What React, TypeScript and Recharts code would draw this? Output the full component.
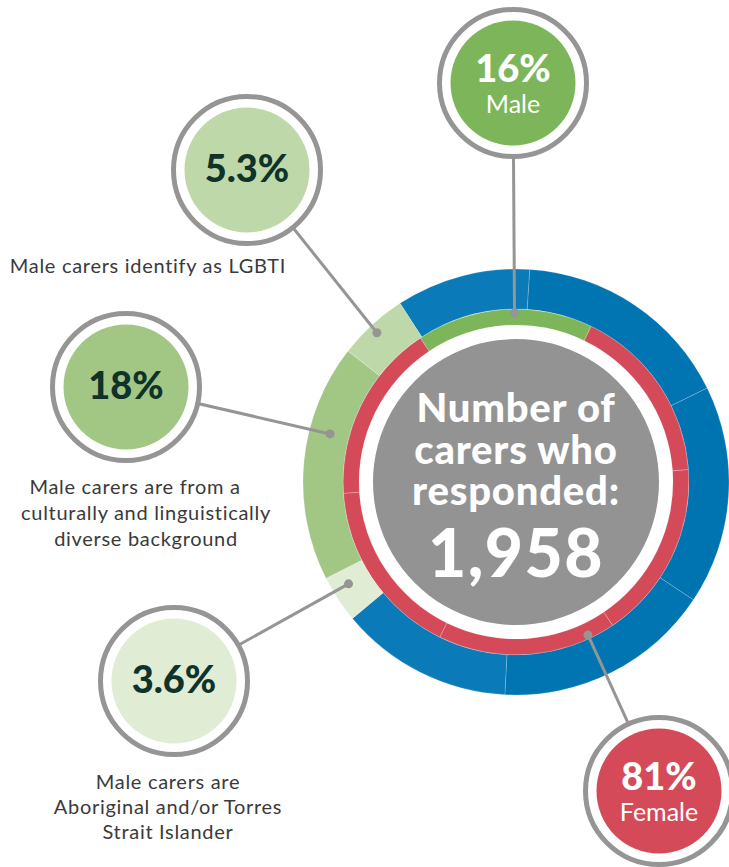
import { PieChart, Pie, Cell } from 'recharts'

// inner ring: gender split (drawn as six equal wedges in the original)
const genderNames = ['Male', 'Female', 'Female', 'Female', 'Female', 'Female']
const genderValues = [16, 16.2, 16.2, 16.2, 16.2, 16.2]
const genderColors = ['#7db65a', '#d44a58', '#d44a58', '#d44a58', '#d44a58', '#d44a58']

// outer ring: male carer groups, the rest is the blue filler
const groupNames = ['Other', 'Other', 'Other', 'Other', 'Other', 'Aboriginal and/or Torres Strait Islander', 'Culturally and linguistically diverse', 'LGBTI']
const groupValues = [10.2, 16.7, 16.6, 16.5, 13.1, 3.6, 18, 5.3]
const groupColors = ['#0a7bb8', '#0075b2', '#0074b1', '#0075b2', '#0a7bb8', '#e0ecd4', '#a2c684', '#bfd8a9']

const respondents = 1958
const centerLines = ['Number of', 'carers who', 'responded:']

const W = 729
const H = 867
const CX = 516
const CY = 482

const genderData = genderNames.map((name, i) => ({ name, value: genderValues[i] }))
const groupData = groupNames.map((name, i) => ({ name, value: groupValues[i] }))

const FONT = 'Lato, "Open Sans", sans-serif'

type Callout = {
  x: number
  y: number
  fill: string
  pct: string
  pctColor: string
  sub?: string
  dotAngle: number
  dotR: number
  caption?: string[]
  captionX?: number[]
  captionY?: number[]
}

const callouts: Callout[] = [
  { x: 513, y: 83, fill: '#7db65a', pct: '16%', pctColor: '#fff', sub: 'Male', dotAngle: 90.5, dotR: 169 },
  {
    x: 247, y: 170, fill: '#bfd8a9', pct: '5.3%', pctColor: '#0f332a', dotAngle: 133, dotR: 204,
    caption: ['Male carers identify as LGBTI'], captionX: [148], captionY: [273],
  },
  {
    x: 126, y: 387, fill: '#a2c684', pct: '18%', pctColor: '#0f332a', dotAngle: 165.5, dotR: 192,
    caption: ['Male carers are from a', 'culturally and linguistically', 'diverse background'],
    captionX: [135, 146, 146], captionY: [494, 520, 546],
  },
  {
    x: 174, y: 681, fill: '#e0ecd4', pct: '3.6%', pctColor: '#0f332a', dotAngle: 211.3, dotR: 196,
    caption: ['Male carers are', 'Aboriginal and/or Torres', 'Strait Islander'],
    captionX: [168, 168, 168], captionY: [789, 814, 839],
  },
  { x: 659, y: 791, fill: '#d44a58', pct: '81%', pctColor: '#fff', sub: 'Female', dotAngle: 295.2, dotR: 169 },
]

const polar = (angle: number, r: number) => {
  const rad = (angle * Math.PI) / 180
  return { x: CX + r * Math.cos(rad), y: CY - r * Math.sin(rad) }
}

// drawn over the chart: leader lines, callout bubbles, centre text
const Annotations = () => (
  <svg width={W} height={H} style={{ position: 'absolute', left: 0, top: 0, pointerEvents: 'none' }}>
    {callouts.map((c, i) => {
      const d = polar(c.dotAngle, c.dotR)
      return <line key={'l' + i} x1={c.x} y1={c.y} x2={d.x} y2={d.y} stroke="#959595" strokeWidth={3} />
    })}
    {callouts.map((c, i) => {
      const d = polar(c.dotAngle, c.dotR)
      return <circle key={'d' + i} cx={d.x} cy={d.y} r={4.5} fill="#959595" />
    })}
    {callouts.map((c, i) => (
      <g key={'c' + i}>
        <circle cx={c.x} cy={c.y} r={73.5} fill="#fff" stroke="#959595" strokeWidth={5} />
        <circle cx={c.x} cy={c.y} r={62.5} fill={c.fill} />
        <text
          x={c.x}
          y={c.sub ? c.y - 1 : c.y + 12}
          textAnchor="middle"
          fontFamily={FONT}
          fontWeight={900}
          fontSize={38}
          fill={c.pctColor}
        >
          {c.pct}
        </text>
        {c.sub && (
          <text x={c.x} y={c.y + 30} textAnchor="middle" fontFamily={FONT} fontSize={25} fill="#fff">
            {c.sub}
          </text>
        )}
        {c.caption?.map((line, j) => (
          <text
            key={j}
            x={c.captionX![j]}
            y={c.captionY![j]}
            textAnchor="middle"
            fontFamily={FONT}
            fontSize={20}
            letterSpacing={0.7}
            fill="#3a3a3a"
          >
            {line}
          </text>
        ))}
      </g>
    ))}
    {centerLines.map((line, i) => (
      <text
        key={'t' + i}
        x={CX}
        y={422 + i * 41.5}
        textAnchor="middle"
        fontFamily={FONT}
        fontWeight={900}
        fontSize={40}
        letterSpacing={0.8}
        fill="#fff"
      >
        {line}
      </text>
    ))}
    <text
      x={CX}
      y={577}
      textAnchor="middle"
      fontFamily={FONT}
      fontWeight={900}
      fontSize={66}
      letterSpacing={1.5}
      fill="#fff"
    >
      {respondents.toLocaleString('en-US')}
    </text>
  </svg>
)

export default function App() {
  return (
    <div style={{ position: 'absolute', left: 0, top: 0, width: W, height: H, background: '#fff' }}>
      <PieChart width={W} height={H} margin={{ top: 0, right: 0, bottom: 0, left: 0 }}>
        <Pie
          data={[{ name: 'Respondents', value: respondents }]}
          dataKey="value"
          cx={CX}
          cy={CY}
          innerRadius={0}
          outerRadius={143}
          fill="#939393"
          stroke="none"
          isAnimationActive={false}
        />
        <Pie
          data={genderData}
          dataKey="value"
          cx={CX}
          cy={CY}
          innerRadius={157}
          outerRadius={173}
          startAngle={123.6}
          endAngle={-236.4}
          isAnimationActive={false}
        >
          {genderData.map((_, i) => (
            <Cell key={i} fill={genderColors[i]} stroke="rgba(255,255,255,0.35)" strokeWidth={0.6} />
          ))}
        </Pie>
        <Pie
          data={groupData}
          dataKey="value"
          cx={CX}
          cy={CY}
          innerRadius={173}
          outerRadius={213}
          startAngle={123}
          endAngle={-237}
          isAnimationActive={false}
        >
          {groupData.map((_, i) => (
            <Cell key={i} fill={groupColors[i]} stroke="rgba(255,255,255,0.3)" strokeWidth={0.6} />
          ))}
        </Pie>
      </PieChart>
      <Annotations />
    </div>
  )
}
